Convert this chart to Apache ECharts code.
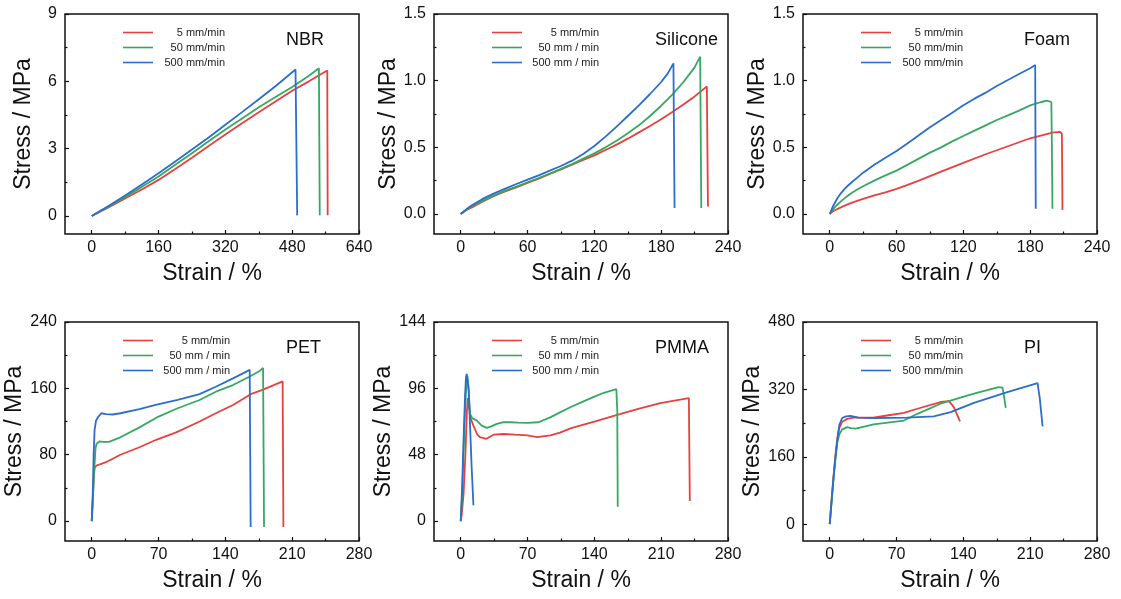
<!DOCTYPE html>
<html>
<head>
<meta charset="utf-8">
<script src="https://cdn.jsdelivr.net/npm/echarts@6/dist/echarts.min.js"></script>
<style>
html,body{margin:0;padding:0;background:#fff;}
#c{width:1121px;height:599px;}
</style>
</head>
<body>
<div id="c"></div>
<script>
// ---------- DATA ----------
const panelNames = ['NBR', 'Silicone', 'Foam', 'PET', 'PMMA', 'PI'];

const nbrLegend = ['5 mm/min', '50 mm/min', '500 mm/min'];
const siliconeLegend = ['5 mm/min', '50 mm / min', '500 mm / min'];
const foamLegend = ['5 mm/min', '50 mm/min', '500 mm/min'];
const petLegend = ['5 mm/min', '50 mm / min', '500 mm / min'];
const pmmaLegend = ['5 mm/min', '50 mm / min', '500 mm / min'];
const piLegend = ['5 mm/min', '50 mm/min', '500 mm/min'];

const nbrXTicks = [0, 160, 320, 480, 640];
const nbrYTicks = [0, 3, 6, 9];
const siliconeXTicks = [0, 60, 120, 180, 240];
const siliconeYTicks = [0, 0.5, 1.0, 1.5];
const foamXTicks = [0, 60, 120, 180, 240];
const foamYTicks = [0, 0.5, 1.0, 1.5];
const petXTicks = [0, 70, 140, 210, 280];
const petYTicks = [0, 80, 160, 240];
const pmmaXTicks = [0, 70, 140, 210, 280];
const pmmaYTicks = [0, 48, 96, 144];
const piXTicks = [0, 70, 140, 210, 280];
const piYTicks = [0, 160, 320, 480];

// [strain %, stress MPa]
const nbrRed = [[0,0],[40,0.38],[80,0.78],[120,1.18],[160,1.61],[200,2.1],[240,2.6],[280,3.12],[320,3.63],[360,4.13],[400,4.62],[440,5.1],[480,5.58],[520,6.0],[564,6.48],[565,0.03]];
const nbrGreen = [[0,0],[40,0.42],[80,0.85],[120,1.3],[160,1.76],[200,2.28],[240,2.8],[280,3.33],[320,3.85],[360,4.35],[400,4.85],[440,5.3],[480,5.75],[520,6.25],[544,6.58],[546,0.03]];
const nbrBlue = [[0,0],[40,0.45],[80,0.92],[120,1.4],[160,1.91],[200,2.43],[240,2.96],[280,3.5],[320,4.07],[360,4.63],[400,5.2],[440,5.78],[488,6.53],[492,0.03]];

const siliconeRed = [[0,0],[5,0.03],[10,0.05],[20,0.095],[30,0.135],[40,0.17],[50,0.2],[60,0.233],[70,0.265],[80,0.3],[90,0.335],[100,0.37],[110,0.405],[120,0.44],[130,0.48],[140,0.52],[150,0.565],[160,0.612],[170,0.66],[180,0.71],[190,0.765],[200,0.822],[210,0.882],[221,0.956],[222,0.057]];
const siliconeGreen = [[0,0],[5,0.03],[10,0.06],[20,0.1],[30,0.14],[40,0.175],[50,0.205],[60,0.238],[70,0.27],[80,0.303],[90,0.338],[100,0.375],[110,0.415],[120,0.455],[130,0.5],[140,0.55],[150,0.605],[160,0.665],[170,0.735],[180,0.812],[190,0.895],[200,0.99],[210,1.1],[215,1.18],[216,0.045]];
const siliconeBlue = [[0,0],[5,0.035],[10,0.065],[20,0.115],[30,0.155],[40,0.19],[50,0.225],[60,0.258],[70,0.29],[80,0.325],[90,0.36],[100,0.4],[110,0.45],[120,0.51],[130,0.58],[140,0.655],[150,0.735],[160,0.815],[170,0.9],[180,0.99],[186,1.055],[191,1.13],[192,0.045]];

const foamRed = [[0,0],[2,0.015],[5,0.03],[10,0.05],[15,0.068],[20,0.085],[30,0.113],[40,0.139],[50,0.163],[60,0.188],[70,0.218],[80,0.25],[100,0.318],[120,0.384],[140,0.448],[160,0.508],[180,0.568],[200,0.61],[207,0.616],[208.5,0.6],[209,0.03]];
const foamGreen = [[0,0],[2,0.025],[5,0.055],[10,0.095],[15,0.13],[20,0.16],[25,0.185],[30,0.208],[40,0.25],[50,0.29],[60,0.325],[70,0.37],[80,0.415],[90,0.46],[100,0.5],[110,0.545],[120,0.585],[130,0.625],[140,0.665],[150,0.705],[160,0.74],[170,0.775],[180,0.815],[190,0.84],[195,0.85],[199,0.84],[199.5,0.5],[200,0.04]];
const foamBlue = [[0,0],[1,0.02],[2,0.04],[3,0.06],[5,0.09],[7,0.12],[10,0.155],[13,0.185],[16,0.21],[20,0.24],[25,0.275],[30,0.31],[40,0.37],[50,0.422],[60,0.472],[70,0.53],[80,0.59],[90,0.65],[100,0.705],[110,0.76],[120,0.816],[130,0.865],[140,0.91],[150,0.96],[160,1.005],[170,1.05],[180,1.093],[184.5,1.118],[185,0.04]];

const petRed = [[0,0],[1,25],[2,50],[3,64],[5,67],[10,69],[15,71],[30,80],[50,89],[67.5,98],[88.5,107],[113,120],[130,130],[148,140],[166.6,153],[179.5,158.4],[200,168.4],[200.8,-7]];
const petGreen = [[0,0],[1,20],[2.5,60],[4,88],[5,93],[8,96],[12,95.5],[18,95.5],[30,101],[50,113],[70,126],[90,136],[113,146],[130,156],[148,164],[165,174],[176,181],[179.5,184.5],[180.5,-7]];
const petBlue = [[0,0],[1,30],[2,80],[3,110],[4.5,121],[7,126],[10,130],[15,129],[22,128.5],[30,130],[50,135],[67,140],[90,146],[113,153],[130,162],[148,172],[160,179],[165.5,182.5],[166.5,-7]];

const pmmaRed = [[0,0],[1,4.3],[3,20],[5,50],[6.5,80],[7.4,89],[8.5,85],[10,75],[13.3,69],[17,63],[20,60.7],[27,59.5],[35,62.6],[45,63],[57,62.5],[70,62],[80,60.7],[94,62],[104,64],[115,67],[125,69],[140,72],[164,76.8],[185,81],[209,85.4],[239,89],[240,14.6]];
const pmmaGreen = [[0,0],[1.5,20],[3,50],[4.5,80],[6,100],[7,105],[8,98],[9.8,77.5],[12,74.5],[16.8,72.7],[22,69],[27.3,67.4],[32,68.5],[37.8,70.3],[45,71.5],[51.8,71.5],[60,71.2],[70,71],[81.5,71.5],[93.8,75],[105,79],[114.8,82.3],[125,85.5],[140,90],[150,92.8],[163,95.5],[164,80],[164.5,10.3]];
const pmmaBlue = [[0,0],[1.5,25],[3,60],[4.5,90],[5.5,104],[6.3,106.5],[7.3,106],[8.3,95],[10,65],[11.5,38],[13.3,11.5]];

const piRed = [[0,0],[2,60],[4,115],[6,165],[8,205],[10,228],[13,243],[18.3,250],[25,253],[45.6,253],[60,258],[77.7,264],[91.8,274],[116,290],[125,292],[130,278],[136.5,244]];
const piGreen = [[0,0],[2,55],[4,110],[6,160],[8,195],[10,213],[13,225],[18.3,230.4],[22,228],[27,226.6],[35,231],[46,237],[77.7,246],[91.8,262],[116,286],[151,310],[177,325.5],[181,324],[182.5,305],[184.4,276]];
const piBlue = [[0,0],[2,55],[4,110],[6,155],[8,200],[10,235],[13,252],[17,256],[21.7,257],[30,253],[46,252],[81,253],[109,256],[126.7,266],[151,288],[186,313.5],[217.7,335],[220,300],[223,232]];

// ---------- LAYOUT / STYLE ----------
const FONT = '"Liberation Sans", Arial, sans-serif';
const COLORS = ['#E6413C', '#36A862', '#2B6ECB'];
const INK = '#111';

const panels = [
  {name: panelNames[0], legend: nbrLegend, xt: nbrXTicks, yt: nbrYTicks, data: [nbrRed, nbrGreen, nbrBlue], dec: 0, left: 65, top: 14, h: 220, lw: 67},
  {name: panelNames[1], legend: siliconeLegend, xt: siliconeXTicks, yt: siliconeYTicks, data: [siliconeRed, siliconeGreen, siliconeBlue], dec: 1, left: 434, top: 14, h: 220, lw: 72},
  {name: panelNames[2], legend: foamLegend, xt: foamXTicks, yt: foamYTicks, data: [foamRed, foamGreen, foamBlue], dec: 1, left: 803, top: 14, h: 220, lw: 67},
  {name: panelNames[3], legend: petLegend, xt: petXTicks, yt: petYTicks, data: [petRed, petGreen, petBlue], dec: 0, left: 65, top: 322, h: 219, lw: 72},
  {name: panelNames[4], legend: pmmaLegend, xt: pmmaXTicks, yt: pmmaYTicks, data: [pmmaRed, pmmaGreen, pmmaBlue], dec: 0, left: 434, top: 322, h: 219, lw: 72},
  {name: panelNames[5], legend: piLegend, xt: piXTicks, yt: piYTicks, data: [piRed, piGreen, piBlue], dec: 0, left: 803, top: 322, h: 219, lw: 67}
];
const W = 294;

function mids(t) { const m = []; for (let i = 0; i < t.length - 1; i++) m.push((t[i] + t[i + 1]) / 2); return m; }

const option = {
  animation: false,
  backgroundColor: '#fff',
  textStyle: {fontFamily: FONT},
  grid: [], xAxis: [], yAxis: [], series: [], legend: [], title: []
};

panels.forEach((p, i) => {
  const xmax = p.xt[p.xt.length - 1], ymax = p.yt[p.yt.length - 1];
  const xmin = -xmax / 10;
  const ymin = (p.name === 'NBR') ? -0.8 : (p.name === 'PI' ? -40 : -ymax / 10);
  option.grid.push({left: p.left, top: p.top, width: W, height: p.h, show: true, borderColor: INK, borderWidth: 1.5, backgroundColor: 'transparent'});
  const tickStyle = {color: INK, width: 1.2};
  const noLine = {show: false, onZero: false};
  option.xAxis.push({
    type: 'value', gridIndex: i, min: xmin, max: xmax, position: 'bottom',
    axisLine: noLine, splitLine: {show: false},
    axisTick: {show: true, inside: true, length: 4, customValues: p.xt, lineStyle: tickStyle},
    axisLabel: {show: true, customValues: p.xt, margin: 6, fontSize: 16, color: INK, fontFamily: FONT},
    name: 'Strain / %', nameLocation: 'middle', nameGap: 28,
    nameTextStyle: {fontSize: 23, color: INK, fontFamily: FONT}
  });
  option.xAxis.push({
    type: 'value', gridIndex: i, min: xmin, max: xmax, position: 'bottom',
    axisLine: noLine, splitLine: {show: false},
    axisTick: {show: true, inside: true, length: 2.5, customValues: mids(p.xt), lineStyle: tickStyle},
    axisLabel: {show: false}
  });
  option.yAxis.push({
    type: 'value', gridIndex: i, min: ymin, max: ymax, position: 'left',
    axisLine: noLine, splitLine: {show: false},
    axisTick: {show: true, inside: true, length: 4, customValues: p.yt, lineStyle: tickStyle},
    axisLabel: {show: true, customValues: p.yt, margin: 8, fontSize: 16, color: INK, fontFamily: FONT,
      formatter: v => v.toFixed(p.dec)},
    name: 'Stress / MPa', nameLocation: 'middle', nameGap: 30,
    nameTextStyle: {fontSize: 23, color: INK, fontFamily: FONT}
  });
  option.yAxis.push({
    type: 'value', gridIndex: i, min: ymin, max: ymax, position: 'left',
    axisLine: noLine, splitLine: {show: false},
    axisTick: {show: true, inside: true, length: 2.5, customValues: mids(p.yt), lineStyle: tickStyle},
    axisLabel: {show: false}
  });
  p.data.forEach((d, k) => {
    option.series.push({
      type: 'line', name: p.legend[k], xAxisIndex: 2 * i, yAxisIndex: 2 * i,
      data: d, showSymbol: false, symbol: 'none', smooth: false,
      lineStyle: {color: COLORS[k], width: 1.8}, itemStyle: {color: COLORS[k]},
      silent: true
    });
  });
  option.legend.push({
    left: p.left + 58, top: p.top + 13, orient: 'vertical', padding: 0,
    itemGap: 4, itemWidth: 30, itemHeight: 11, selectedMode: false,
    icon: 'path://M0,0L30,0L30,1.6L0,1.6Z',
    data: p.legend,
    formatter: n => '{t|' + n + '}',
    textStyle: {fontSize: 11, color: '#222', fontFamily: FONT,
      rich: {t: {width: p.lw, align: 'right', fontSize: 11, color: '#222', fontFamily: FONT}}}
  });
  option.title.push({
    text: p.name, left: p.left + 221, top: p.top + 17, padding: 0,
    textStyle: {fontSize: 18, fontWeight: 'normal', color: INK, fontFamily: FONT}
  });
});

const chart = echarts.init(document.getElementById('c'), null, {renderer: 'canvas'});
chart.setOption(option);
</script>
</body>
</html>
